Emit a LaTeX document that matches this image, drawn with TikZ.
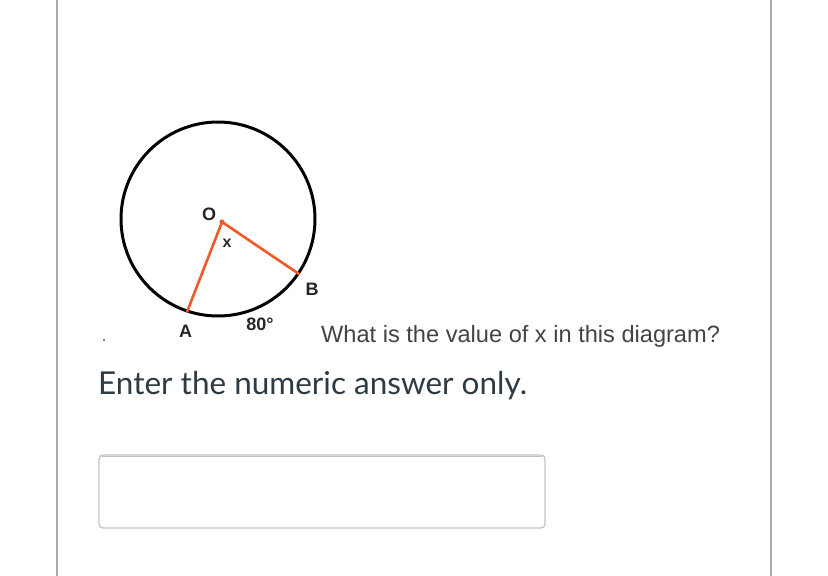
\documentclass[tikz,border=0pt]{standalone}
\usepackage{fontspec}
\setmainfont{Liberation Sans}
\newfontfamily\lato{Lato}
\definecolor{frame}{HTML}{A9A9A9}
\definecolor{orng}{HTML}{F05A28}
\definecolor{qgray}{HTML}{444444}
\definecolor{canvasdark}{HTML}{2D3B45}
\definecolor{boxline}{HTML}{C4C4C4}
\begin{document}
\begin{tikzpicture}[x=1pt,y=-1pt,
  lbl/.style={anchor=base,inner sep=0pt,font=\fontsize{18}{18}\selectfont\bfseries,text=black!85},
  seg/.style={draw=orng,line width=2.6pt,line cap=round},
  frameline/.style={draw=frame,line width=2.2pt}]
\useasboundingbox[fill=white] (0,0) rectangle (828,576);
\draw[frameline] (57,0) -- (57,576);
\draw[frameline] (771,0) -- (771,576);
% circle
\coordinate (C) at (218,219);
\draw[black,line width=3pt] (C) circle[radius=97pt];
\coordinate (O) at (222,222);
\coordinate (A) at (187,312);
\coordinate (B) at (299,274);
\draw[seg] (A) -- (O) -- (B);
\fill[orng] (O) circle[radius=2.6pt];
\node[lbl] (lO) at (209,220.5) {O};
\node[lbl,font=\fontsize{16}{16}\selectfont\bfseries] (lx) at (227,247) {x};
\node[lbl] (lB) at (312,295.5) {B};
\node[lbl] (lA) at (185.5,337.5) {A};
\node[lbl] (l80) at (260,330.5) {80°};
\fill[qgray] (104,340) circle[radius=1pt];
% question
\node[anchor=base west,inner sep=0pt,text=qgray,font=\fontsize{23.6}{24}\selectfont] (q) at (321,342) {What is the value of x in this diagram?};
\node[anchor=base west,inner sep=0pt,text=canvasdark,font=\lato\fontsize{31.5}{34}\selectfont] (enter) at (98,394) {Enter the numeric answer only.};
% answer box
\draw[boxline,line width=1.3pt,rounded corners=4pt,fill=white] (99,455) rectangle (545,528);
\draw[black!25,line width=1pt] (102,456.5) -- (542,456.5);
\end{tikzpicture}
\end{document}
